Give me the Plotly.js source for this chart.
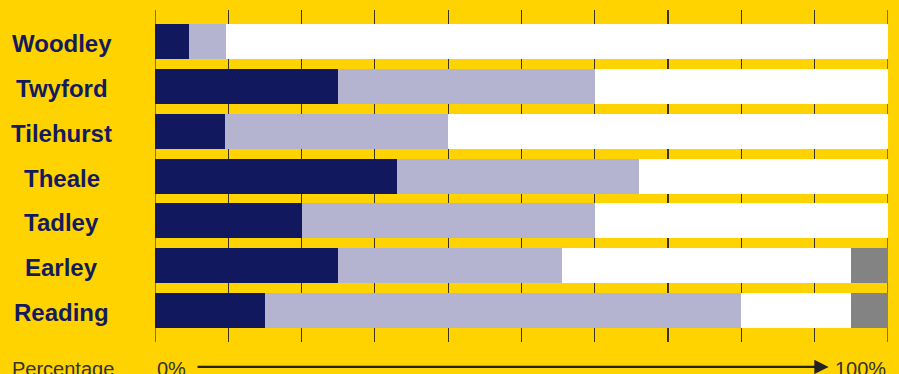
<!DOCTYPE html>
<html><head><meta charset="utf-8">
<script src="https://cdn.plot.ly/plotly-3.0.1.min.js"></script>
<style>html,body{margin:0;padding:0;background:#FFD300;}</style>
</head><body><div id="chart" style="width:899px;height:374px;"></div>
<script>
const categories = ['Woodley','Twyford','Tilehurst','Theale','Tadley','Earley','Reading'];
const seriesA = [4.6, 25, 9.5, 33, 20, 25, 15];
const seriesB = [5.1, 35, 30.5, 33, 40, 30.5, 65];
const seriesC = [90.3, 40, 60, 34, 40, 39.5, 15];
const seriesD = [0, 0, 0, 0, 0, 5, 5];
const xTicks = [0,10,20,30,40,50,60,70,80,90,100];
const axisLabels = {name:'Percentage', start:'0%', end:'100%'};

const colors = ['#12185E','#B4B4D0','#FFFFFF','#838383'];
const data = [seriesA, seriesB, seriesC, seriesD].map((v,i)=>({
  type:'bar', orientation:'h', y:categories, x:v,
  marker:{color:colors[i], line:{width:0}}, hoverinfo:'none', showlegend:false
}));

const navy = '#141A5E';
const gridCol = '#3a3520';
const annotations = categories.map(c=>({
  xref:'paper', yref:'y', x:-0.127, y:c, yshift:-2, text:'<b>'+c+'</b>', showarrow:false,
  xanchor:'center', yanchor:'middle',
  font:{family:'Liberation Sans, Arial, sans-serif', size:24, color:navy}
}));
const bf = {family:'Liberation Sans, Arial, sans-serif', size:20, color:'#333333'};
annotations.push({xref:'paper', yref:'paper', x:-0.198, y:-0.078, yshift:-1, text:axisLabels.name, showarrow:false, xanchor:'left', yanchor:'middle', font:bf});
annotations.push({xref:'paper', yref:'paper', x:0, y:-0.078, yshift:-1, text:axisLabels.start, showarrow:false, xanchor:'left', yanchor:'middle', font:bf});
annotations.push({xref:'paper', yref:'paper', x:1, y:-0.078, yshift:-1, text:axisLabels.end, showarrow:false, xanchor:'right', yanchor:'middle', font:bf});
annotations.push({xref:'x', yref:'paper', x:91.9, y:-0.075, axref:'x', ayref:'pixel', ax:5.6, ay:0,
  text:'', showarrow:true, arrowhead:2, arrowsize:1.3, arrowwidth:2.2, arrowcolor:'#222222'});

const edgeTicks = [xTicks[0], xTicks[xTicks.length-1]];
const shapes = edgeTicks.map(t=>({type:'line', xref:'x', yref:'paper', x0:t, x1:t, y0:0, y1:1,
  line:{color:gridCol, width:1.2}, layer:'below'}));

const layout = {
  width:899, height:374,
  margin:{l:155, r:11, t:10, b:32, pad:0},
  paper_bgcolor:'#FFD300', plot_bgcolor:'#FFD300',
  barmode:'stack', bargap:0.222,
  xaxis:{range:[0,100], tickvals:xTicks, showticklabels:false, showgrid:true,
    gridcolor:gridCol, gridwidth:1.2, zeroline:false, showline:false, ticks:''},
  yaxis:{type:'category', categoryorder:'array', categoryarray:categories,
    range:[6.69,-0.69], showticklabels:false, showgrid:false, zeroline:false, ticks:''},
  annotations:annotations, shapes:shapes
};
Plotly.newPlot('chart', data, layout, {staticPlot:true, displayModeBar:false});
</script></body></html>
